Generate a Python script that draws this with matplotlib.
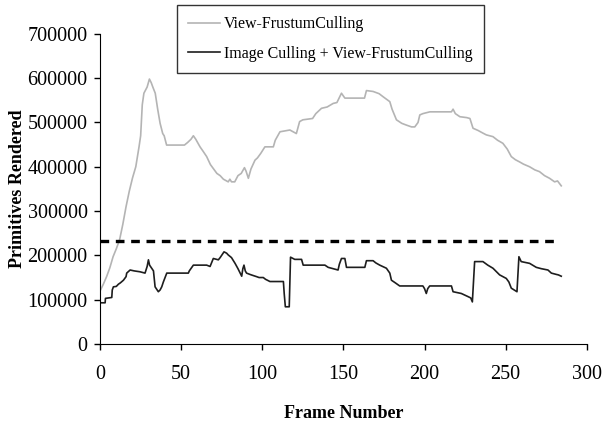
import matplotlib.pyplot as plt

# values (frame number, primitives rendered)
vfc_frames = [0, 2, 4, 6, 8, 10, 12, 14, 16, 18, 20, 22, 24, 25, 26, 27, 29, 30.4, 31.5, 32.5,
              34, 35.5, 37, 38.6, 39.5, 41, 52, 54, 56, 57.5, 59, 61.6, 63.5, 65.7, 68, 70,
              72, 74, 76, 78, 79, 80, 81, 83, 85, 87, 89, 90, 91.4, 93, 95.5, 97, 99, 101.6,
              106.8, 108, 110.9, 117, 121, 123, 125, 131, 133, 136.5, 140, 143.7, 146, 148.8,
              150.9, 163, 164.2, 168.3, 172, 174.5, 178.6, 180, 182.7, 186, 188.9, 192, 194,
              196, 197.1, 199, 203.3, 216.6, 217.6, 219, 221.8, 226, 228, 229.9, 233, 236,
              238.1, 242.2, 245, 248.3, 251, 253.5, 256, 258.6, 261, 264.8, 268, 270.9, 274,
              277.1, 280.2, 282, 284.3]
vfc_values = [120, 135, 152, 172, 197, 215, 235, 270, 310, 345, 375, 400, 445, 470, 540, 566,
              580, 598, 590, 580, 566, 530, 498, 475, 470, 449, 449, 455, 462, 470, 462, 445,
              435, 423, 405, 395, 385, 380, 372, 368, 366, 372, 366, 366, 380, 385, 398, 390,
              374, 395, 415, 420, 430, 445, 445, 460, 479, 483, 475, 502, 506, 509, 520, 532,
              535, 543, 545, 566, 555, 555, 572, 570, 565, 558, 547, 530, 506, 498, 494, 490,
              490, 500, 517, 520, 524, 524, 530, 520, 513, 511, 509, 487, 482, 476, 472, 468,
              460, 453, 440, 423, 416, 411, 406, 400, 393, 389, 380, 374, 366, 368, 357]

ic_frames = [0, 3.1, 3.3, 7.2, 7.5, 8.2, 10, 11.3, 12.5, 14.4, 16, 16.4, 18.5, 21, 24.6, 27.7,
             29, 29.8, 30.5, 31.8, 32.9, 33.9, 35.9, 37, 38, 39, 41.1, 54.4, 55, 57.5, 65.7,
             67.8, 69.8, 72.9, 74, 76.4, 78, 79, 81, 83.2, 85, 87.3, 88, 88.7, 89.5, 90.3,
             92.4, 94, 96.5, 98, 100.6, 102, 104.7, 113, 113.5, 114.2, 116.6, 117.4, 120,
             124.2, 125.2, 138.6, 140.6, 146.7, 147.5, 148.8, 150.9, 151.9, 163.2, 164.2,
             168.3, 170, 172.4, 176.5, 178.6, 179.6, 182, 184.7, 199, 200, 201.1, 202, 203.2,
             216.6, 217.6, 222.7, 226.8, 228.5, 229.5, 230.9, 236, 239, 242.2, 246.3, 250.4,
             252, 253.5, 257, 258.2, 259.6, 264.8, 268.9, 272, 276.1, 278.2, 281.3, 282.5,
             284.3]
ic_values = [93, 93, 103, 105, 122, 129, 130, 135, 138, 144, 152, 160, 167, 165, 163, 160,
             175, 190, 178, 171, 165, 129, 118, 122, 129, 140, 160, 160, 165, 178, 178, 175,
             193, 190, 195, 208, 205, 201, 195, 182, 170, 153, 170, 178, 165, 160, 157, 155,
             152, 150, 150, 146, 141, 141, 114, 84, 84, 196, 191, 191, 178, 178, 173, 167,
             180, 193, 193, 173, 173, 188, 188, 183, 178, 171, 160, 144, 138, 131, 131, 125,
             114, 125, 131, 131, 118, 114, 107, 104, 95, 186, 186, 178, 171, 156, 148, 140,
             126, 118, 197, 186, 182, 173, 170, 167, 160, 157, 156, 153]

threshold = 233000
threshold_frames = [0, 282.5]

serif = 'Liberation Serif'

fig = plt.figure(figsize=(6.03, 4.26), dpi=100)
ax = fig.add_axes([0.166, 0.1925, 0.807, 0.728])

ax.plot(vfc_frames, [v * 1000 for v in vfc_values], color='#b4b4b4', lw=1.2,
        label='View-FrustumCulling')
ax.plot(ic_frames, [v * 1000 for v in ic_values], color='#1e1e1e', lw=1.2,
        label='Image Culling + View-FrustumCulling')
ax.plot(threshold_frames, [threshold, threshold], color='black', lw=2.4,
        dashes=(2.6, 2.0))

ax.set_xlim(0, 300)
ax.set_ylim(0, 700000)
ax.set_xticks(range(0, 301, 50))
ax.set_yticks(range(0, 700001, 100000))
ax.spines['top'].set_visible(False)
ax.spines['right'].set_visible(False)
ax.tick_params(direction='out', length=4, width=1, labelsize=14.5)
ax.tick_params(axis='x', pad=11)
ax.tick_params(axis='y', pad=5)
for lab in ax.get_xticklabels() + ax.get_yticklabels():
    lab.set_family(serif)

ax.set_xlabel('Frame Number', fontfamily=serif, fontweight='bold', fontsize=13)
ax.set_ylabel('Primitives Rendered', fontfamily=serif, fontweight='bold', fontsize=13)
ax.xaxis.set_label_coords(0.5, -0.197)
ax.yaxis.set_label_coords(-0.152, 0.5)

leg = fig.legend(loc='upper left', bbox_to_anchor=(0.2935, 0.988), borderaxespad=0,
                 prop={'family': serif, 'size': 11.5}, fancybox=False,
                 edgecolor='#333333', framealpha=1, handlelength=2.0,
                 handletextpad=0.25, borderpad=0.7, labelspacing=0.85)
leg.get_frame().set_linewidth(1.0)

fig.savefig('out.png', dpi=100)
